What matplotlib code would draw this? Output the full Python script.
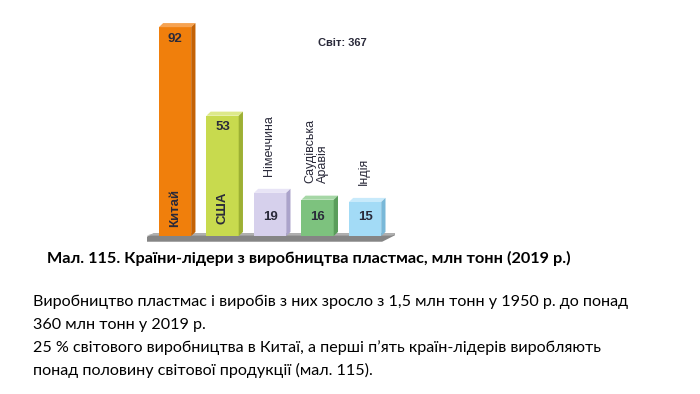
import matplotlib
matplotlib.use("Agg")
import matplotlib.pyplot as plt
from matplotlib.patches import Polygon
import numpy as np

# data
countries = ["Китай", "США", "Німеччина", "Саудівська\nАравія", "Індія"]
values = [92, 53, 19, 16, 15]
world_total = 367
front_colors = ["#F07F0C", "#C8DA4E", "#D6D0EC", "#7DC27E", "#A3DBF6"]
top_colors = ["#F6A352", "#DDE98A", "#E8E4F6", "#A6D7A6", "#C8EAFB"]
side_colors = ["#C46205", "#9DB033", "#ABA3CB", "#5A9D5B", "#79B8D8"]

caption = "Мал. 115. Країни-лідери з виробництва пластмас, млн тонн (2019 р.)"
body = [
    "Виробництво пластмас і виробів з них зросло з 1,5 млн тонн у 1950 р. до понад",
    "360 млн тонн у 2019 р.",
    "25 % світового виробництва в Китаї, а перші п’ять країн-лідерів виробляють",
    "понад половину світової продукції (мал. 115).",
]

W, H = 700, 394
fig = plt.figure(figsize=(W / 100, H / 100), dpi=100)
fig.patch.set_facecolor("white")

# axes placed in pixel terms: x from 147 to 395 px, y data -5..100
ax = fig.add_axes([147 / W, (H - 247.4) / H, 248 / W, 238.4 / H])
ax.set_xlim(-0.59, 4.63)
ax.set_ylim(-5, 100)
ax.axis("off")

width = 0.68
dx, dy = 0.09, 1.8  # 3d depth offset

# ground slab
x0, x1 = -0.8, 4.36
ax.add_patch(Polygon([(x0, -2.5), (x1, -2.5), (x1 + 0.35, 1.2), (x0 + 0.35, 1.2)],
                     closed=True, facecolor="#858585", edgecolor="none", zorder=1))
ax.add_patch(Polygon([(x0 + 0.2, 0.2), (x1 + 0.2, 0.2), (x1 + 0.35, 1.2), (x0 + 0.35, 1.2)],
                     closed=True, facecolor="#B0B0B0", edgecolor="none", zorder=1))

xs = np.arange(len(values))
ax.bar(xs, values, width=width, bottom=0, color=front_colors, edgecolor="none", zorder=3)
for x, v, tc, sc in zip(xs, values, top_colors, side_colors):
    l, r = x - width / 2, x + width / 2
    ax.add_patch(Polygon([(l, v), (r, v), (r + dx, v + dy), (l + dx, v + dy)],
                         closed=True, facecolor=tc, edgecolor="none", zorder=3))
    ax.add_patch(Polygon([(r, 0), (r + dx, dy), (r + dx, v + dy), (r, v)],
                         closed=True, facecolor=sc, edgecolor="none", zorder=3))

txt_col = "#2A2A3A"
for x, v in zip(xs, values):
    y = v - 5 if v > 30 else 8.6
    ax.text(x, y, str(v), ha="center", va="center", fontsize=9.5, fontweight="bold",
            color=txt_col, family="Liberation Sans", zorder=4)

# country names: inside the tall bars, above the short ones
for x, v, name in zip(xs, values, countries):
    if v > 30:
        ax.text(x, 12.5, name, rotation=90, ha="center", va="center", fontsize=9.5,
                fontweight="bold", color=txt_col, family="Liberation Sans", zorder=4)
    else:
        ax.text(x - 0.02, v + 7.5, name, rotation=90, ha="center", va="bottom",
                multialignment="left", fontsize=9, color=txt_col,
                family="Liberation Sans", linespacing=1.15, zorder=4)

ax.text(3.52, 85, f"Світ: {world_total}", ha="center", va="center", fontsize=8,
        fontweight="bold", color=txt_col, family="Liberation Sans")

fig.text(47 / W, 1 - 263 / H, caption, ha="left", va="baseline", fontsize=11.7,
         fontweight="bold", family="Lato", color="black")
for i, line in enumerate(body):
    fig.text(33 / W, 1 - (306 + 23 * i) / H, line, ha="left", va="baseline",
             fontsize=11.6, family="Lato", color="black")

fig.savefig("out.png", dpi=100, facecolor="white")
